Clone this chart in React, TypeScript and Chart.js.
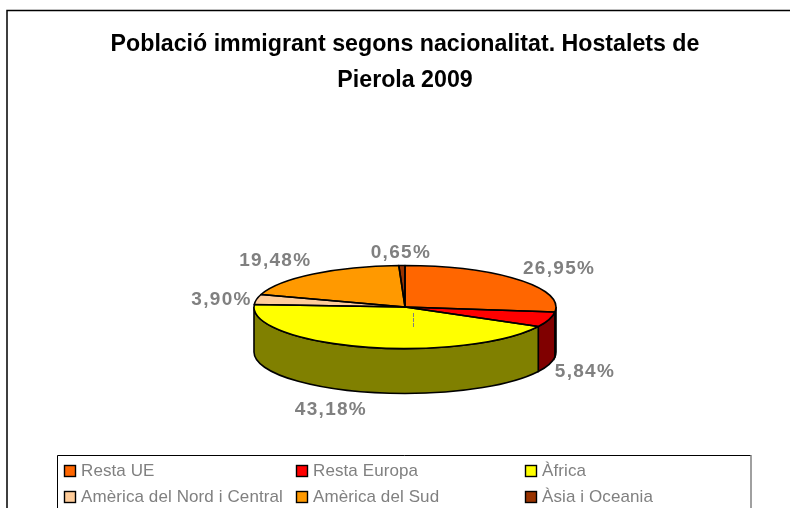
import React, { useEffect, useRef } from "react";
import { Chart, registerables } from "chart.js";

Chart.register(...registerables);

const categories = ["Resta UE", "Resta Europa", "Àfrica", "Amèrica del Nord i Central", "Amèrica del Sud", "Àsia i Oceania"];
const persons = [83, 18, 133, 12, 60, 2];
const topColours = ["#FF6600", "#FF0000", "#FFFF00", "#FFCC99", "#FF9900", "#993300"];
const sideColours = ["#803300", "#800000", "#808000", "#806650", "#804D00", "#4D1A00"];
const titleLines = ["Població immigrant segons nacionalitat. Hostalets de", "Pierola 2009"];

const FONT = '"Liberation Sans", Arial, sans-serif';
const SQUASH = 41.5 / 151;
const DEPTH = 45;
const labelOffsets = [[41, -11], [36, 52], [-33, 63], [-35, 0], [-38, -13], [-1, -13]];

const pie3d = {
  id: "pie3d",
  beforeDraw(chart: any) {
    const { ctx } = chart;
    ctx.save();
    ctx.fillStyle = "#ffffff";
    ctx.fillRect(0, 0, chart.width, chart.height);
    ctx.strokeStyle = "#000000";
    ctx.lineWidth = 1.5;
    ctx.strokeRect(7, 10.5, 820, 520);
    ctx.restore();
  },
  beforeDatasetsDraw(chart: any) {
    const { ctx } = chart;
    const arcs = chart.getDatasetMeta(0).data;
    const { x: cx, y: cy, outerRadius: r } = arcs[0];
    const ry = r * SQUASH;
    arcs.forEach((arc: any, i: number) => {
      const a0 = Math.max(arc.startAngle, 0);
      const a1 = Math.min(arc.endAngle, Math.PI);
      if (a1 <= a0) return;
      ctx.save();
      ctx.beginPath();
      ctx.ellipse(cx, cy, r, ry, 0, a0, a1, false);
      ctx.ellipse(cx, cy + DEPTH, r, ry, 0, a1, a0, true);
      ctx.closePath();
      ctx.fillStyle = sideColours[i];
      ctx.fill();
      ctx.strokeStyle = "#000000";
      ctx.lineWidth = 1.6;
      ctx.stroke();
      ctx.restore();
    });
    ctx.save();
    ctx.translate(cx, cy);
    ctx.scale(1, SQUASH);
    ctx.translate(-cx, -cy);
  },
  afterDatasetsDraw(chart: any) {
    const { ctx } = chart;
    ctx.restore();
    const arcs = chart.getDatasetMeta(0).data;
    const { x: cx, y: cy, outerRadius: r } = arcs[0];
    const ry = r * SQUASH;
    arcs.forEach((arc: any) => {
      ctx.save();
      ctx.beginPath();
      ctx.moveTo(cx, cy);
      ctx.ellipse(cx, cy, r, ry, 0, arc.startAngle, arc.endAngle, false);
      ctx.closePath();
      ctx.strokeStyle = "#000000";
      ctx.lineWidth = 1.6;
      ctx.lineJoin = "round";
      ctx.stroke();
      ctx.restore();
    });
    ctx.save();
    ctx.strokeStyle = "#808080";
    ctx.setLineDash([4, 1]);
    ctx.beginPath();
    ctx.moveTo(413.5, cy + 6);
    ctx.lineTo(413.5, cy + 21);
    ctx.stroke();
    ctx.restore();
    const total = persons.reduce((a, b) => a + b, 0);
    ctx.save();
    ctx.font = `bold 19px ${FONT}`;
    (ctx as any).letterSpacing = "1.3px";
    ctx.fillStyle = "#808080";
    ctx.textAlign = "center";
    ctx.textBaseline = "middle";
    arcs.forEach((arc: any, i: number) => {
      const mid = (arc.startAngle + arc.endAngle) / 2;
      const text = ((persons[i] / total) * 100).toFixed(2).replace(".", ",") + "%";
      ctx.fillText(text, cx + r * Math.cos(mid) + labelOffsets[i][0], cy + ry * Math.sin(mid) + labelOffsets[i][1]);
    });
    ctx.restore();
  },
  afterDraw(chart: any) {
    const { ctx } = chart;
    ctx.save();
    ctx.lineWidth = 1;
    ctx.strokeStyle = "#000000";
    ctx.beginPath();
    ctx.moveTo(57.5, 520);
    ctx.lineTo(57.5, 455.5);
    ctx.lineTo(751, 455.5);
    ctx.stroke();
    ctx.strokeStyle = "#808080";
    ctx.lineWidth = 1.5;
    ctx.beginPath();
    ctx.moveTo(751, 455);
    ctx.lineTo(751, 520);
    ctx.stroke();
    const cols = [64, 296, 525];
    const rows = [471, 497];
    categories.forEach((label, i) => {
      const x = cols[i % 3];
      const y = rows[Math.floor(i / 3)];
      ctx.fillStyle = topColours[i];
      ctx.fillRect(x + 0.5, y - 5.5, 11, 11);
      ctx.strokeStyle = "#000000";
      ctx.lineWidth = 1.4;
      ctx.strokeRect(x + 0.5, y - 5.5, 11, 11);
      ctx.font = `17px ${FONT}`;
      (ctx as any).letterSpacing = "0.1px";
      ctx.textBaseline = "middle";
      ctx.fillStyle = "#808080";
      ctx.fillText(label, x + 17, y);
    });
    ctx.restore();
  },
};

export default function App() {
  const ref = useRef<HTMLCanvasElement | null>(null);
  useEffect(() => {
    const chart = new Chart(ref.current as HTMLCanvasElement, {
      type: "pie",
      plugins: [pie3d],
      data: {
        labels: categories,
        datasets: [{ data: persons, backgroundColor: topColours, borderWidth: 0, hoverOffset: 0 }],
      },
      options: {
        responsive: false,
        animation: false,
        layout: { padding: { left: 20, right: 0, top: 0, bottom: 50 } },
        plugins: {
          legend: { display: false },
          tooltip: { enabled: false },
          title: {
            display: true,
            text: titleLines,
            color: "#000000",
            font: { family: FONT, size: 23.2, weight: "bold", lineHeight: 1.53 },
            padding: { top: 27, bottom: 58 },
          },
        },
      },
    } as any);
    return () => chart.destroy();
  }, []);
  return (
    <div style={{ position: "fixed", left: 0, top: 0, width: 790, height: 508 }}>
      <canvas ref={ref} width={790} height={508} style={{ display: "block" }} />
    </div>
  );
}
